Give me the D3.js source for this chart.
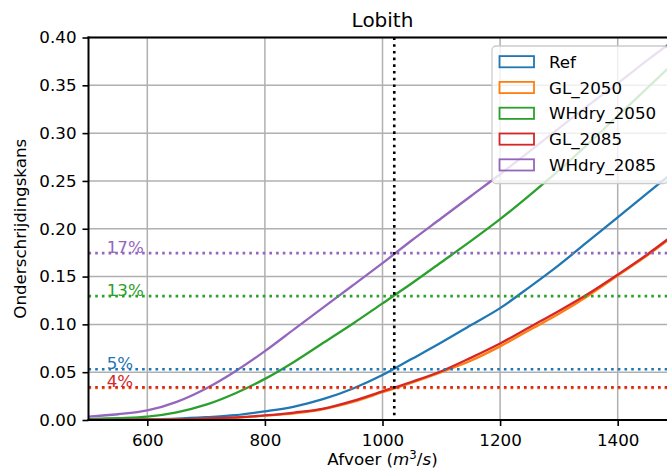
<!DOCTYPE html>
<html>
<head>
<meta charset="utf-8">
<script src="https://cdn.jsdelivr.net/npm/d3@7"></script>
<style>
    body { margin: 0; background: #fff; }
    svg { display: block; font-family: 'DejaVu Sans', sans-serif; }
    .tick text { font-size: 16.7px; fill: #000; }
    .title { font-size: 20px; }
    .axis-label { font-size: 16.7px; }
</style>
</head>
<body>
<svg width="667" height="474"></svg>
<script>
// afvoer (m3/s) at which every curve is read
const afvoer = [500, 550, 600, 650, 700, 750, 800, 850, 900, 950, 1000,
    1050, 1100, 1150, 1200, 1250, 1300, 1350, 1400, 1450, 1500];

const seriesNames = ['Ref', 'GL_2050', 'WHdry_2050', 'GL_2085', 'WHdry_2085'];
const seriesColors = ['#1f77b4', '#ff7f0e', '#2ca02c', '#d62728', '#9467bd'];

// onderschrijdingskans per scenario
const ref = [0, 0.0003, 0.0008, 0.0015, 0.003, 0.005, 0.009, 0.014, 0.022, 0.033, 0.047,
    0.064, 0.081, 0.099, 0.117, 0.139, 0.162, 0.187, 0.212, 0.237, 0.262];
const gl2050 = [0, 0.0001, 0.0003, 0.0006, 0.0013, 0.0023, 0.0045, 0.007, 0.0115, 0.019, 0.029,
    0.039, 0.050, 0.062, 0.077, 0.094, 0.111, 0.130, 0.151, 0.172, 0.195];
const whdry2050 = [0.001, 0.002, 0.0035, 0.008, 0.016, 0.028, 0.043, 0.061, 0.081, 0.101, 0.122,
    0.143, 0.165, 0.187, 0.210, 0.235, 0.261, 0.289, 0.318, 0.347, 0.376];
const gl2085 = [0, 0.0001, 0.0003, 0.0007, 0.0015, 0.0027, 0.0048, 0.0078, 0.012, 0.020, 0.030,
    0.040, 0.051, 0.065, 0.080, 0.097, 0.114, 0.132, 0.152, 0.173, 0.196];
const whdry2085 = [0.0035, 0.006, 0.010, 0.019, 0.033, 0.051, 0.072, 0.095, 0.118, 0.141, 0.164,
    0.188, 0.211, 0.234, 0.257, 0.281, 0.305, 0.329, 0.352, 0.376, 0.399];

// kans bij de referentie-afvoer (vertical line)
const refAfvoer = 1020;
const kansAtRef = [0.053, 0.0335, 0.1295, 0.0343, 0.1745];
const kansLabels = ['5%', '', '13%', '4%', '17%'];

const xTicks = [600, 800, 1000, 1200, 1400];
const yTicks = [0, 0.05, 0.10, 0.15, 0.20, 0.25, 0.30, 0.35, 0.40];

const svg = d3.select('svg');
const margin = { left: 88.5, top: 37.5, right: 676.5, bottom: 420 };

const xScale = d3.scaleLinear().domain([500, 1500]).range([margin.left, margin.right]);
const yScale = d3.scaleLinear().domain([0, 0.4]).range([margin.bottom, margin.top]);

const allSeries = [ref, gl2050, whdry2050, gl2085, whdry2085].map((vals, i) => ({
    name: seriesNames[i],
    color: seriesColors[i],
    points: afvoer.map((a, j) => [a, vals[j]])
}));

svg.append('defs').append('clipPath').attr('id', 'clip')
    .append('rect')
    .attr('x', margin.left).attr('y', margin.top)
    .attr('width', margin.right - margin.left)
    .attr('height', margin.bottom - margin.top);

//grid lines
const grid = svg.append('g').attr('stroke', '#b0b0b0').attr('stroke-width', 1.5);
grid.selectAll('.gx').data(xTicks).enter().append('line')
    .attr('x1', d => xScale(d)).attr('x2', d => xScale(d))
    .attr('y1', margin.top).attr('y2', margin.bottom);
grid.selectAll('.gy').data(yTicks).enter().append('line')
    .attr('x1', margin.left).attr('x2', margin.right)
    .attr('y1', d => yScale(d)).attr('y2', d => yScale(d));

//curves
const line = d3.line()
    .x(d => xScale(d[0]))
    .y(d => yScale(d[1]))
    .curve(d3.curveCatmullRom.alpha(0.5));

const plot = svg.append('g').attr('clip-path', 'url(#clip)');
plot.selectAll('.curve').data(allSeries).enter().append('path')
    .attr('class', 'curve')
    .attr('fill', 'none')
    .attr('stroke', d => d.color)
    .attr('stroke-width', 2.3)
    .attr('d', d => line(d.points));

//dotted lines at the reference afvoer
const dots = { width: 2.6, dash: '2.6,4.1' };
plot.selectAll('.hline').data(kansAtRef).enter().append('line')
    .attr('x1', margin.left).attr('x2', margin.right)
    .attr('y1', d => yScale(d)).attr('y2', d => yScale(d))
    .attr('stroke', (d, i) => seriesColors[i])
    .attr('stroke-width', dots.width)
    .attr('stroke-dasharray', dots.dash);

plot.append('line')
    .attr('x1', xScale(refAfvoer)).attr('x2', xScale(refAfvoer))
    .attr('y1', margin.top).attr('y2', margin.bottom)
    .attr('stroke', '#000')
    .attr('stroke-width', dots.width)
    .attr('stroke-dasharray', dots.dash);

svg.selectAll('.pct').data(kansAtRef.filter((d, i) => kansLabels[i])).enter().append('text')
    .attr('class', 'pct')
    .attr('x', xScale(531))
    .attr('y', d => yScale(d))
    .attr('fill', d => seriesColors[kansAtRef.indexOf(d)])
    .style('font-size', '16.7px')
    .text(d => kansLabels[kansAtRef.indexOf(d)]);

//axes
const xAxis = d3.axisBottom(xScale).tickValues(xTicks).tickSize(6).tickPadding(8).tickFormat(d3.format('d'));
const yAxis = d3.axisLeft(yScale).tickValues(yTicks).tickSize(6).tickPadding(6).tickFormat(d3.format('.2f'));

const xAxisG = svg.append('g').attr('transform', `translate(0,${margin.bottom})`).call(xAxis);
const yAxisG = svg.append('g').attr('transform', `translate(${margin.left},0)`).call(yAxis);
[xAxisG, yAxisG].forEach(g => {
    g.select('.domain').remove();
    g.selectAll('.tick line').attr('stroke', '#000').attr('stroke-width', 1.6);
    g.selectAll('.tick text').style('font-family', 'DejaVu Sans');
});

//spines: left, top, bottom (right one falls outside the picture)
const spines = svg.append('g').attr('stroke', '#000').attr('stroke-width', 2).attr('stroke-linecap', 'square');
spines.append('line').attr('x1', margin.left).attr('x2', margin.left).attr('y1', margin.top).attr('y2', margin.bottom);
spines.append('line').attr('x1', margin.left).attr('x2', margin.right).attr('y1', margin.top).attr('y2', margin.top);
spines.append('line').attr('x1', margin.left).attr('x2', margin.right).attr('y1', margin.bottom).attr('y2', margin.bottom);

//title and labels
const midX = (margin.left + margin.right) / 2;
svg.append('text').attr('class', 'title')
    .attr('x', midX).attr('y', 27.3)
    .attr('text-anchor', 'middle')
    .text('Lobith');

const xLabel = svg.append('text').attr('class', 'axis-label')
    .attr('x', midX).attr('y', 465)
    .attr('text-anchor', 'middle');
xLabel.append('tspan').text('Afvoer (');
xLabel.append('tspan').attr('font-style', 'italic').text('m');
xLabel.append('tspan').attr('font-size', '11.7px').attr('dy', -6).text('3');
xLabel.append('tspan').attr('dy', 6).text('/');
xLabel.append('tspan').attr('font-style', 'italic').text('s');
xLabel.append('tspan').text(')');

svg.append('text').attr('class', 'axis-label')
    .attr('transform', `translate(25.5,${(margin.top + margin.bottom) / 2}) rotate(-90)`)
    .attr('text-anchor', 'middle')
    .text('Onderschrijdingskans');

//legend
const legend = svg.append('g');
const legendTop = 46;
const rowH = 25.8;
legend.append('rect')
    .attr('x', 492).attr('y', legendTop)
    .attr('width', 176).attr('height', 137.5)
    .attr('rx', 4)
    .attr('fill', '#fff').attr('fill-opacity', 0.8)
    .attr('stroke', '#ccc').attr('stroke-width', 1.3);

const rows = legend.selectAll('.row').data(allSeries).enter().append('g')
    .attr('transform', (d, i) => `translate(0,${legendTop + 15.7 + i * rowH})`);
rows.append('rect')
    .attr('x', 499.5).attr('y', -5.6)
    .attr('width', 34.5).attr('height', 11.2)
    .attr('fill', 'none')
    .attr('stroke', d => d.color)
    .attr('stroke-width', 1.8);
rows.append('text')
    .attr('x', 549).attr('dy', '0.36em')
    .style('font-size', '16.7px')
    .text(d => d.name);
</script>
</body>
</html>
